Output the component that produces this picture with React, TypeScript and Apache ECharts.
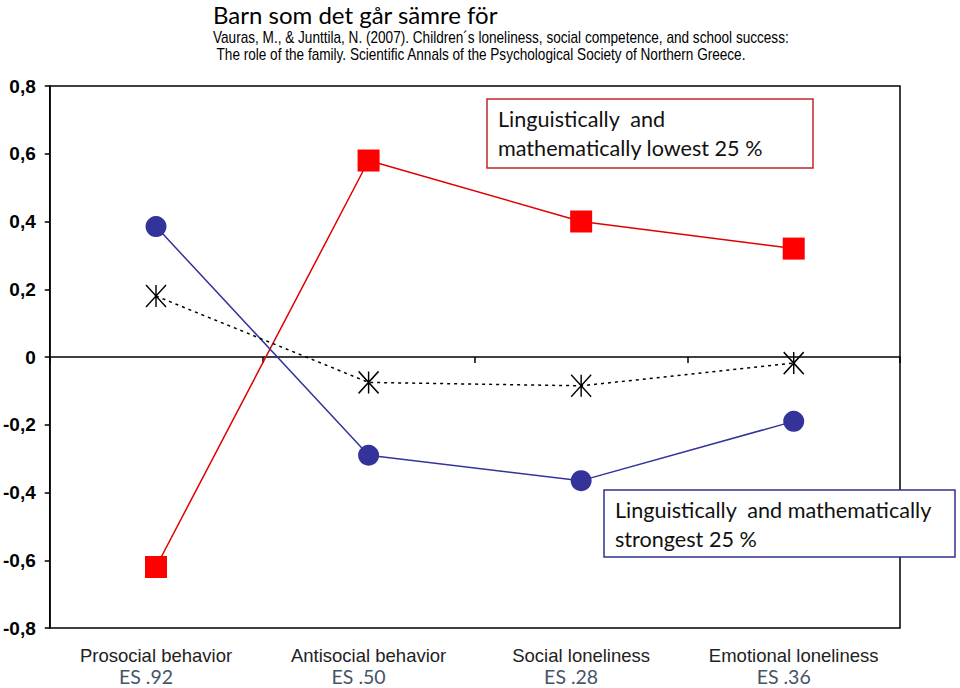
import React, { useEffect, useRef } from "react";
import * as echarts from "echarts";

const categories = ["Prosocial behavior", "Antisocial behavior", "Social loneliness", "Emotional loneliness"];
const effectSizes = ["ES .92", "ES .50", "ES .28", "ES .36"];
const lowest25 = [-0.62, 0.58, 0.40, 0.32];
const strongest25 = [0.385, -0.29, -0.365, -0.19];
const average = [0.18, -0.075, -0.085, -0.018];
const yTicks = { min: -0.8, max: 0.8, interval: 0.2 };

const titleText = "Barn som det går sämre för";
const citeLine1 = "Vauras, M., & Junttila, N. (2007). Children´s loneliness, social competence, and school success:";
const citeLine2 = " The role of the family. Scientific Annals of the Psychological Society of Northern Greece.";
const redNote = "Linguistically  and\nmathematically lowest 25 %";
const blueNote = "Linguistically  and mathematically\nstrongest 25 %";

export default function App() {
  const ref = useRef<HTMLDivElement>(null);
  useEffect(() => {
    if (!ref.current) return;
    const chart = echarts.init(ref.current, null, { renderer: "svg" });
    const calibri = "Lato, 'Open Sans', sans-serif";
    const arial = "'Liberation Sans', Arial, sans-serif";
    chart.setOption({
      animation: false,
      backgroundColor: "#fff",
      grid: {
        left: 48, right: 60, top: 86, bottom: 60,
        show: true, borderColor: "#000", borderWidth: 1.5, backgroundColor: "transparent",
      },
      xAxis: [
        {
          type: "category",
          data: categories,
          position: "bottom",
          axisLine: { show: false, onZero: false },
          axisTick: { show: false },
          axisLabel: {
            interval: 0,
            margin: 16,
            formatter: (v: string, i: number) => `{a|${v}}\n{b|${effectSizes[i]}}`,
            rich: {
              a: { fontFamily: arial, fontSize: 18.5, color: "#222", lineHeight: 22 },
              b: { fontFamily: calibri, fontSize: 19.5, color: "#44546a", lineHeight: 21, padding: [0, 20, 0, 0] },
            },
          },
        },
        {
          type: "category",
          data: categories,
          position: "bottom",
          axisLine: { show: true, onZero: true, lineStyle: { color: "#000", width: 1.5 } },
          axisTick: { show: true, length: 6, lineStyle: { color: "#000", width: 1.5 } },
          axisLabel: { show: false },
        },
      ],
      yAxis: {
        type: "value",
        min: yTicks.min, max: yTicks.max, interval: yTicks.interval,
        axisLine: { show: true, lineStyle: { color: "#000", width: 1.5 } },
        axisTick: { show: true, length: 5, lineStyle: { color: "#000", width: 1.5 } },
        splitLine: { show: false },
        axisLabel: {
          margin: 14,
          fontFamily: arial, fontSize: 19, fontWeight: "bold", color: "#000",
          formatter: (v: number) => (Math.abs(v) < 1e-9 ? "0" : v.toFixed(1).replace(".", ",")),
        },
      },
      series: [
        {
          name: "lowest",
          type: "line",
          data: lowest25,
          symbol: "rect",
          symbolSize: 22,
          lineStyle: { color: "#e00000", width: 1.5 },
          itemStyle: { color: "#ff0000" },
          z: 3,
        },
        {
          name: "strongest",
          type: "line",
          data: strongest25,
          symbol: "circle",
          symbolSize: 21,
          lineStyle: { color: "#33339a", width: 1.5 },
          itemStyle: { color: "#33339a" },
          z: 3,
        },
        {
          name: "average",
          type: "line",
          data: average,
          symbol: "path://M0,0L20,22M20,0L0,22M10,0L10,22",
          symbolSize: [20, 22],
          lineStyle: { color: "#000", width: 1.5, type: [3, 4] },
          itemStyle: { color: "rgba(0,0,0,0)", borderColor: "#000", borderWidth: 1.5 },
          z: 3,
        },
      ],
      graphic: [
        {
          type: "text", x: 213, y: 2,
          style: { text: titleText, fontFamily: calibri, fontSize: 24, fill: "#000" },
        },
        {
          type: "text", x: 213, y: 30, scaleX: 0.85,
          style: { text: citeLine1, fontFamily: arial, fontSize: 16, fill: "#000" },
        },
        {
          type: "text", x: 213, y: 47, scaleX: 0.85,
          style: { text: citeLine2, fontFamily: arial, fontSize: 16, fill: "#000" },
        },
        {
          type: "group", z: 10,
          children: [
            {
              type: "rect", shape: { x: 487, y: 99, width: 326, height: 69 },
              style: { fill: "#fff", stroke: "#c0282d", lineWidth: 1.5 },
            },
            {
              type: "text", x: 498, y: 104,
              style: { text: redNote, fontFamily: calibri, fontSize: 21.6, lineHeight: 29, fill: "#111" },
            },
          ],
        },
        {
          type: "group", z: 10,
          children: [
            {
              type: "rect", shape: { x: 604, y: 490, width: 351, height: 67 },
              style: { fill: "#fff", stroke: "#2e3192", lineWidth: 1.5 },
            },
            {
              type: "text", x: 615, y: 495,
              style: { text: blueNote, fontFamily: calibri, fontSize: 21.6, lineHeight: 29, fill: "#111" },
            },
          ],
        },
      ],
    });
    return () => chart.dispose();
  }, []);
  return (
    <div
      ref={ref}
      style={{ position: "fixed", left: 0, top: 0, width: 960, height: 688 }}
    />
  );
}
